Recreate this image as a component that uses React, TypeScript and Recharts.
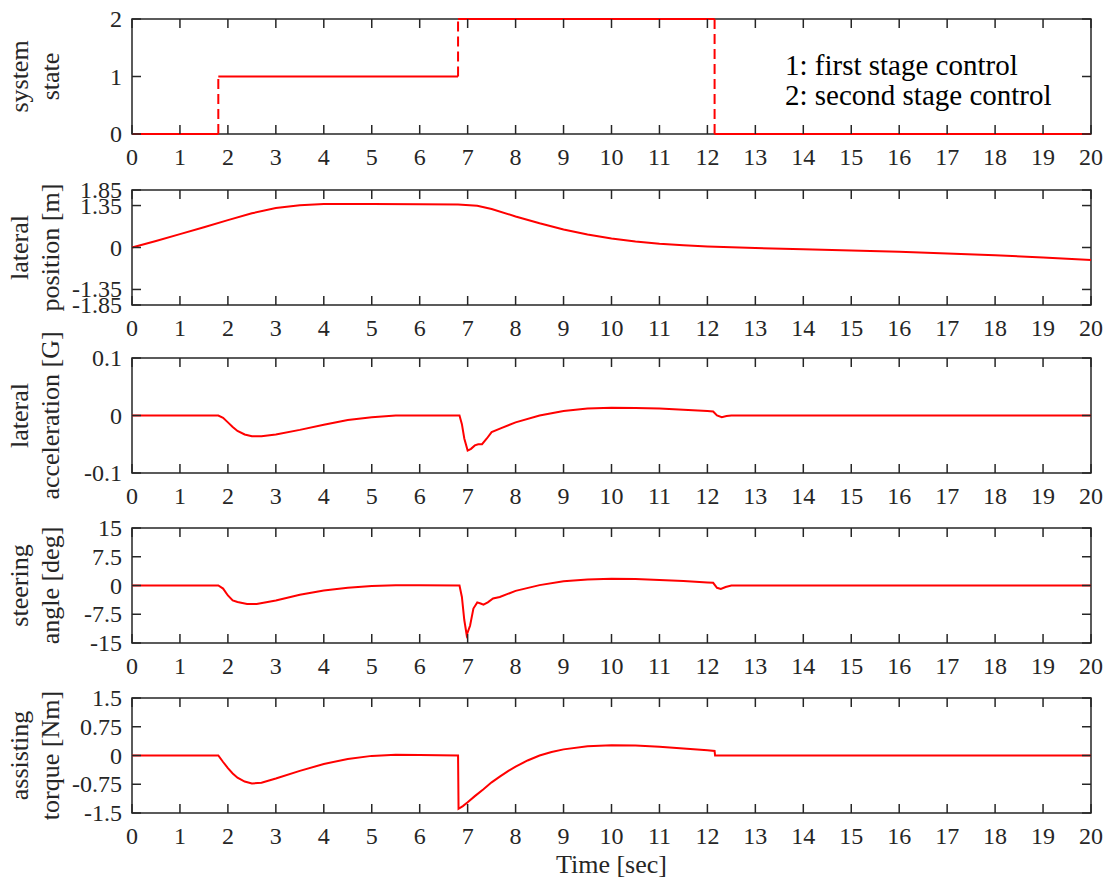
import React from "react";
import { LineChart, Line, XAxis, YAxis, ReferenceArea } from "recharts";

const FONT = '"Liberation Serif", "Times New Roman", serif';
const INK = "#262626";
const RED = "#ff0000";

const W = 1113;
const PLOT_TOP = 45; // room above each plot so rotated titles are not clipped
const PLOT_H = 115;
const Y_AXIS_W = 132;
const RIGHT_M = 22;
const PLOT_W = W - Y_AXIS_W - RIGHT_M;
const TL = 9;

const timeTicks = [0, 1, 2, 3, 4, 5, 6, 7, 8, 9, 10, 11, 12, 13, 14, 15, 16, 17, 18, 19, 20];

// system state: switching times and levels between them
const switchTimes = [1.8, 6.8, 12.15];
const stateLevels = [0, 1, 2, 0];

// [time, value]
const position: [number, number][] = [
  [0, 0], [0.5, 0.21], [1, 0.43], [1.5, 0.65], [2, 0.88], [2.5, 1.1], [3, 1.27], [3.5, 1.36],
  [4, 1.4], [5, 1.4], [6, 1.39], [6.8, 1.38], [7.2, 1.34], [7.5, 1.24], [8, 1.0], [8.5, 0.78],
  [9, 0.58], [9.5, 0.42], [10, 0.29], [10.5, 0.19], [11, 0.12], [11.5, 0.07], [12, 0.03],
  [13, -0.02], [14, -0.06], [15, -0.1], [16, -0.14], [17, -0.19], [18, -0.25], [19, -0.32], [20, -0.4],
];

const accel: [number, number][] = [
  [0, 0], [1.8, 0], [1.9, -0.004], [2.0, -0.012], [2.1, -0.02], [2.2, -0.027], [2.35, -0.033],
  [2.5, -0.036], [2.7, -0.036], [3.0, -0.033], [3.5, -0.025], [4.0, -0.016], [4.5, -0.008],
  [5.0, -0.003], [5.5, 0], [6.0, 0], [6.83, 0], [6.88, -0.015], [6.93, -0.04], [7.0, -0.061],
  [7.07, -0.058], [7.15, -0.052], [7.22, -0.05], [7.3, -0.05], [7.4, -0.04], [7.5, -0.029],
  [7.7, -0.022], [8.0, -0.012], [8.5, 0], [9.0, 0.008], [9.5, 0.012], [10.0, 0.0135],
  [10.5, 0.013], [11.0, 0.012], [11.5, 0.01], [12.0, 0.008], [12.12, 0.007], [12.2, 0],
  [12.3, -0.003], [12.4, -0.001], [12.5, 0], [20, 0],
];

const steering: [number, number][] = [
  [0, 0], [1.8, 0], [1.9, -0.8], [2.0, -2.6], [2.1, -3.9], [2.2, -4.3], [2.4, -4.8], [2.6, -4.8],
  [3.0, -3.9], [3.5, -2.4], [4.0, -1.3], [4.5, -0.6], [5.0, -0.15], [5.5, 0.05], [6.0, 0.05],
  [6.83, 0], [6.88, -3], [6.93, -9], [6.98, -12.9], [7.05, -10.5], [7.12, -6], [7.2, -4.4],
  [7.27, -4.7], [7.33, -5.0], [7.42, -4.4], [7.53, -3.4], [7.67, -3.0], [8.0, -1.4], [8.5, 0.1],
  [9.0, 1.1], [9.5, 1.55], [10, 1.75], [10.5, 1.7], [11, 1.45], [11.5, 1.15], [12, 0.8],
  [12.12, 0.7], [12.2, -0.6], [12.28, -0.9], [12.38, -0.4], [12.5, 0], [20, 0],
];

const torque: [number, number][] = [
  [0, 0], [1.8, 0], [1.9, -0.17], [2.0, -0.33], [2.1, -0.47], [2.2, -0.58], [2.35, -0.68],
  [2.5, -0.73], [2.7, -0.71], [3.0, -0.6], [3.5, -0.4], [4.0, -0.22], [4.5, -0.09], [5.0, -0.01],
  [5.5, 0.02], [6.0, 0.015], [6.8, 0], [6.81, -1.39], [6.9, -1.32], [7.0, -1.22], [7.15, -1.06],
  [7.33, -0.88], [7.5, -0.7], [7.67, -0.55], [7.85, -0.4], [8.0, -0.29], [8.25, -0.13],
  [8.5, 0.0], [8.75, 0.09], [9.0, 0.16], [9.5, 0.24], [10, 0.27], [10.5, 0.26], [11, 0.23],
  [11.5, 0.18], [12, 0.14], [12.15, 0.12], [12.16, 0], [20, 0],
];

const rows = (pts: [number, number][]) => pts.map(([t, v]) => ({ t, v }));

// horizontal (solid) and vertical (dashed) pieces of the state staircase
const bounds = [0, ...switchTimes, 20];
const stateFlat = stateLevels.map((lvl, i) => [
  { t: bounds[i], v: lvl },
  { t: bounds[i + 1], v: lvl },
]);
const stateJumps = switchTimes.map((s, i) => [
  { t: s, v: stateLevels[i] },
  { t: s, v: stateLevels[i + 1] },
]);

const BottomTick = (props: any) => {
  const { x, y, payload } = props;
  return (
    <g>
      <line x1={x} y1={y} x2={x} y2={y - TL} stroke={INK} strokeWidth={1.5} />
      <line x1={x} y1={y - PLOT_H} x2={x} y2={y - PLOT_H + TL} stroke={INK} strokeWidth={1.5} />
      <text x={x} y={y + 30.5} textAnchor="middle" fontFamily={FONT} fontSize={24} fill={INK}>
        {payload.value}
      </text>
    </g>
  );
};

const LeftTick = (props: any) => {
  const { x, y, payload } = props;
  return (
    <g>
      <line x1={x} y1={y} x2={x + TL} y2={y} stroke={INK} strokeWidth={1.5} />
      <line x1={x + PLOT_W} y1={y} x2={x + PLOT_W - TL} y2={y} stroke={INK} strokeWidth={1.5} />
      <text x={x - 10} y={y + 8} textAnchor="end" fontFamily={FONT} fontSize={24} fill={INK}>
        {payload.value}
      </text>
    </g>
  );
};

// two-line rotated axis title, baselines at x = 28 and x = 59
const yLabel = (lines: string[]) => () => {
  const cy = PLOT_TOP + PLOT_H / 2;
  return (
    <g>
      {lines.map((s, i) => {
        const bx = 28 + i * 31;
        return (
          <text
            key={s}
            x={bx}
            y={cy}
            transform={`rotate(-90 ${bx} ${cy})`}
            textAnchor="middle"
            fontFamily={FONT}
            fontSize={26}
            fill={INK}
          >
            {s}
          </text>
        );
      })}
    </g>
  );
};

interface PanelProps {
  top: number;
  height: number;
  domain: [number, number];
  ticks: number[];
  label: string[];
  xLabel?: string;
  children: React.ReactNode;
}

const Panel = ({ top, height, domain, ticks, label, xLabel, children }: PanelProps) => (
  <div style={{ position: "absolute", left: 0, top: top - PLOT_TOP, width: W, height }}>
    <LineChart
      width={W}
      height={height}
      margin={{ top: PLOT_TOP, right: RIGHT_M, bottom: 0, left: 0 }}
    >
      <XAxis
        type="number"
        dataKey="t"
        domain={[0, 20]}
        ticks={timeTicks}
        interval={0}
        tickSize={0}
        tickMargin={0}
        axisLine={false}
        tickLine={false}
        tick={<BottomTick />}
        height={height - PLOT_TOP - PLOT_H}
        label={
          xLabel
            ? () => (
                <text
                  x={Y_AXIS_W + PLOT_W / 2}
                  y={PLOT_TOP + PLOT_H + 60}
                  textAnchor="middle"
                  fontFamily={FONT}
                  fontSize={26}
                  fill={INK}
                >
                  {xLabel}
                </text>
              )
            : undefined
        }
      />
      <YAxis
        type="number"
        domain={domain}
        ticks={ticks}
        interval={0}
        width={Y_AXIS_W}
        tickSize={0}
        tickMargin={0}
        axisLine={false}
        tickLine={false}
        tick={<LeftTick />}
        label={yLabel(label)}
      />
      <ReferenceArea
        x1={0}
        x2={20}
        y1={domain[0]}
        y2={domain[1]}
        fill="none"
        stroke={INK}
        strokeWidth={1.5}
      />
      {children}
    </LineChart>
  </div>
);

const curve = (pts: [number, number][]) => (
  <Line
    data={rows(pts)}
    dataKey="v"
    type="linear"
    stroke={RED}
    strokeWidth={2}
    dot={false}
    activeDot={false}
    isAnimationActive={false}
  />
);

const BELOW = 46;

export default function App() {
  return (
    <div
      style={{
        position: "absolute",
        left: 0,
        top: 0,
        width: W,
        height: 882,
        background: "#fff",
        fontFamily: FONT,
        overflow: "hidden",
      }}
    >
      <Panel
        top={19}
        height={PLOT_TOP + PLOT_H + BELOW}
        domain={[0, 2]}
        ticks={[0, 1, 2]}
        label={["system", "state"]}
      >
        {stateFlat.map((d, i) => (
          <Line
            key={`f${i}`}
            data={d}
            dataKey="v"
            stroke={RED}
            strokeWidth={2}
            dot={false}
            activeDot={false}
            isAnimationActive={false}
          />
        ))}
        {stateJumps.map((d, i) => (
          <Line
            key={`j${i}`}
            data={d}
            dataKey="v"
            stroke={RED}
            strokeWidth={2}
            strokeDasharray="10 5"
            dot={false}
            activeDot={false}
            isAnimationActive={false}
          />
        ))}
      </Panel>
      <Panel
        top={190}
        height={PLOT_TOP + PLOT_H + BELOW}
        domain={[-1.85, 1.85]}
        ticks={[-1.85, -1.35, 0, 1.35, 1.85]}
        label={["lateral", "position [m]"]}
      >
        {curve(position)}
      </Panel>
      <Panel
        top={358}
        height={PLOT_TOP + PLOT_H + BELOW}
        domain={[-0.1, 0.1]}
        ticks={[-0.1, 0, 0.1]}
        label={["lateral", "acceleration [G]"]}
      >
        {curve(accel)}
      </Panel>
      <Panel
        top={528}
        height={PLOT_TOP + PLOT_H + BELOW}
        domain={[-15, 15]}
        ticks={[-15, -7.5, 0, 7.5, 15]}
        label={["steering", "angle [deg]"]}
      >
        {curve(steering)}
      </Panel>
      <Panel
        top={698}
        height={882 - 698 + PLOT_TOP}
        domain={[-1.5, 1.5]}
        ticks={[-1.5, -0.75, 0, 0.75, 1.5]}
        label={["assisting", "torque [Nm]"]}
        xLabel="Time [sec]"
      >
        {curve(torque)}
      </Panel>
      <div
        style={{
          position: "absolute",
          left: 785,
          top: 50,
          fontSize: 29,
          lineHeight: "30px",
          color: "#000",
          fontFamily: FONT,
          whiteSpace: "pre",
        }}
      >
        {"1: first stage control\n2: second stage control"}
      </div>
    </div>
  );
}
